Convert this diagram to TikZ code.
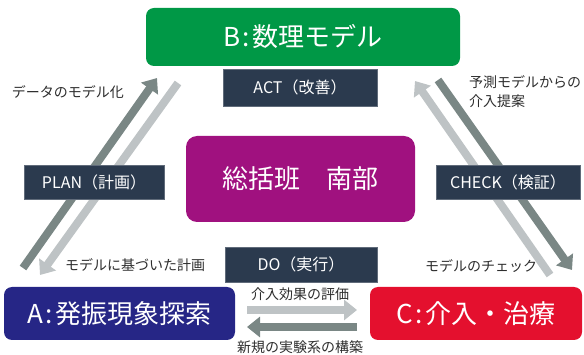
\documentclass[tikz,border=0pt]{standalone}
\usepackage{fontspec}
\setmainfont{Noto Sans CJK JP}
\usetikzlibrary{arrows.meta}
\usetikzlibrary{calc}
\definecolor{modelgreen}{RGB}{0,152,70}
\definecolor{pdcanavy}{RGB}{43,58,78}
\definecolor{hanpurple}{RGB}{160,17,127}
\definecolor{expblue}{RGB}{38,38,134}
\definecolor{treatred}{RGB}{228,16,46}
\definecolor{arrdark}{RGB}{122,135,133}
\definecolor{arrlight}{RGB}{190,195,197}
\definecolor{notegray}{RGB}{45,45,45}
\begin{document}
\begin{tikzpicture}[x=1pt,y=-1pt,inner sep=0pt,>={Triangle[width=20pt,length=13pt]},
  mainbox/.style={rounded corners=8pt,text=white,minimum height=53pt,font=\fontsize{26}{30}\selectfont},
  pdcabox/.style={fill=pdcanavy,draw=pdcanavy!75!white,line width=.6pt,text=white,minimum height=35pt,font=\fontsize{16}{20}\selectfont},
  note/.style={text=notegray,font=\fontsize{14}{19}\selectfont},
  darkarr/.style={->,draw=arrdark,line width=8pt},
  lightarr/.style={->,draw=arrlight,line width=8pt}]
\useasboundingbox (0,0) rectangle (584,355);
\coordinate (LD0) at (23,268);
\coordinate (LD1) at (157,78);
\coordinate (LL0) at (178,83);
\coordinate (LL1) at (40,275);
\coordinate (RL0) at (550,275);
\coordinate (RL1) at (415,81);
\coordinate (RD0) at (438,80);
\coordinate (RD1) at (572,270);
\coordinate (HL0) at (247,310);
\coordinate (HL1) at (357,310);
\coordinate (HD0) at (357,327);
\coordinate (HD1) at (247,327);
\draw [darkarr]  (LD0) -- (LD1);
\draw [lightarr] (LL0) -- (LL1);
\draw [lightarr] (RL0) -- (RL1);
\draw [darkarr]  (RD0) -- (RD1);
\draw [lightarr] (HL0) -- (HL1);
\draw [darkarr]  (HD0) -- (HD1);
\draw node [mainbox,fill=modelgreen,minimum width=314pt,minimum height=58pt] (B) at (303,37) {B\hspace{2pt}:\hspace{3pt}数理モデル};
\draw node [mainbox,fill=expblue,minimum width=231pt] (A) at (119.5,313.5) {A\hspace{2pt}:\hspace{3pt}発振現象探索};
\draw node [mainbox,fill=treatred,minimum width=212pt] (C) at (476,313.5) {C\hspace{2pt}:\hspace{3pt}介入・治療};
\draw node [mainbox,fill=hanpurple,rounded corners=11pt,minimum width=229pt,minimum height=86pt] (H) at (300.5,179) {総括班　南部};
\draw node [pdcabox,minimum width=154pt,minimum height=37pt] (ACT) at (300,87.5) {ACT（改善）};
\draw node [pdcabox,minimum width=140pt,minimum height=34pt] (PLAN) at (94,182) {PLAN（計画）};
\draw node [pdcabox,minimum width=144pt,minimum height=34pt] (CHECK) at (508,182) {CHECK（検証）};
\draw node [pdcabox,minimum width=152pt] (DO) at (301,264.5) {DO（実行）};
\draw node [note] (tModel) at (68,92) {データのモデル化};
\draw node [note,align=left,anchor=west] (tPropose) at (469,92) {予測モデルからの\\介入提案};
\draw node [note] (tPlan) at (135,265) {モデルに基づいた計画};
\draw node [note] (tCheck) at (481,266) {モデルのチェック};
\draw node [note] (tEval) at (300,294) {介入効果の評価};
\draw node [note] (tNew) at (300,347) {新規の実験系の構築};
\end{tikzpicture}
\end{document}
